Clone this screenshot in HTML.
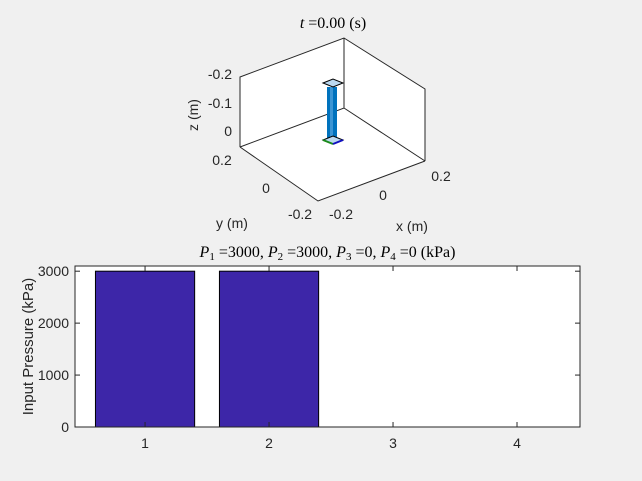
<!DOCTYPE html>
<html><head><meta charset="utf-8"><style>
body{margin:0;background:#f0f0f0;}
svg{display:block;font-family:"Liberation Sans",sans-serif;}
.t{font-family:"Liberation Serif",serif;font-size:16px;fill:#000}
.lab{font-size:14px;fill:#262626}
</style></head><body>
<svg width="642" height="481">
<g>
<text class="t" x="333" y="28" text-anchor="middle"><tspan font-style="italic">t</tspan> =0.00 (s)</text>
<polygon points="240,77 344,38 425,89 425,161 318,201 240,147" fill="#fff"/>
<g stroke="#262626" stroke-width="1" fill="none">
<polyline points="240,147 240,77 344,38 425,89 425,161"/>
<polyline points="240,147 318,201 425,161"/>
<polyline points="240,147 344,108 425,161"/>
<line x1="344" y1="38" x2="344" y2="108"/>
</g>
<g class="lab" text-anchor="end">
<text x="232" y="79">-0.2</text><text x="232" y="108">-0.1</text><text x="232" y="136">0</text>
</g>
<g class="lab" text-anchor="middle">
<text x="222" y="165">0.2</text><text x="266" y="193">0</text><text x="300" y="219">-0.2</text>
</g>
<g class="lab" text-anchor="middle">
<text x="341" y="219">-0.2</text><text x="383" y="200">0</text><text x="441" y="181">0.2</text>
</g>
<text class="lab" font-size="15" transform="translate(198,115) rotate(-90)" text-anchor="middle">z (m)</text>
<text class="lab" font-size="15" x="232" y="228" text-anchor="middle">y (m)</text>
<text class="lab" font-size="15" x="412" y="231" text-anchor="middle">x (m)</text>
<g>
<rect x="327" y="87" width="10" height="51" fill="#0072BD"/>
<rect x="330" y="87" width="3" height="51" fill="#3b95d4"/>
<polygon points="323,140 333,136 343,140 333,144" fill="#bcd9f0" stroke="#000" stroke-width="1"/>
<line x1="323" y1="140" x2="333" y2="144" stroke="#1a8a1a" stroke-width="2"/>
<line x1="333" y1="144" x2="343" y2="140" stroke="#1010c0" stroke-width="2"/>
<polygon points="323,83 333,79 343,83 333,87" fill="#bcd9f0" stroke="#000" stroke-width="1"/>
</g>
</g>
<g id="bar"></g>
</svg>
<script>
const categories=[1,2,3,4];
const values=[3000,3000,0,0];
const yTicks=[0,1000,2000,3000];
const NS="http://www.w3.org/2000/svg";
const L=75,R=580,T=266,B=427,xmin=0.435,xmax=4.508,ymax=3100;
const X=v=>L+(v-xmin)/(xmax-xmin)*(R-L);
const Y=v=>B-v/ymax*(B-T);
const g=document.getElementById('bar');
function mk(tag,attrs,txt){const e=document.createElementNS(NS,tag);for(const k in attrs)e.setAttribute(k,attrs[k]);if(txt!=null)e.textContent=txt;g.appendChild(e);return e;}
let e=mk('rect',{x:L,y:T,width:R-L,height:B-T,fill:'#fff'});


categories.forEach((c,i)=>{const v=values[i];if(v<=0)return;
 const b=mk('rect',{x:X(c-0.4),y:Y(v),width:X(c+0.4)-X(c-0.4),height:B-Y(v),fill:'#3d26a8',stroke:'#000','stroke-width':1});
 
 
});
yTicks.forEach(t=>{const y=Y(t);
 mk('line',{x1:L,y1:y,x2:L+5,y2:y,stroke:'#262626'});
 mk('line',{x1:R,y1:y,x2:R-5,y2:y,stroke:'#262626'});
 const tx=mk('text',{x:L-6,y:y+5,'text-anchor':'end','font-size':14,fill:'#262626'},t);
 
 
});
categories.forEach(c=>{const x=X(c);
 mk('line',{x1:x,y1:B,x2:x,y2:B-5,stroke:'#262626'});
 mk('line',{x1:x,y1:T,x2:x,y2:T+5,stroke:'#262626'});
 const tx=mk('text',{x:x,y:B+21,'text-anchor':'middle','font-size':14,fill:'#262626'},c);
 
 
});
e=mk('rect',{x:L,y:T,width:R-L,height:B-T,fill:'none',stroke:'#262626','stroke-width':1});


e=mk('text',{transform:'translate(33,'+((T+B)/2)+') rotate(-90)','text-anchor':'middle','font-size':15,fill:'#262626'},'Input Pressure (kPa)');


e=mk('text',{x:(L+R)/2,y:257,'text-anchor':'middle','font-family':'Liberation Serif, serif','font-size':16,fill:'#000'});


e.innerHTML='<tspan font-style="italic">P</tspan><tspan font-size="11" dy="3">1</tspan><tspan dy="-3"> =3000, </tspan><tspan font-style="italic">P</tspan><tspan font-size="11" dy="3">2</tspan><tspan dy="-3"> =3000, </tspan><tspan font-style="italic">P</tspan><tspan font-size="11" dy="3">3</tspan><tspan dy="-3"> =0, </tspan><tspan font-style="italic">P</tspan><tspan font-size="11" dy="3">4</tspan><tspan dy="-3"> =0 (kPa)</tspan>';
</script>
</body></html>
